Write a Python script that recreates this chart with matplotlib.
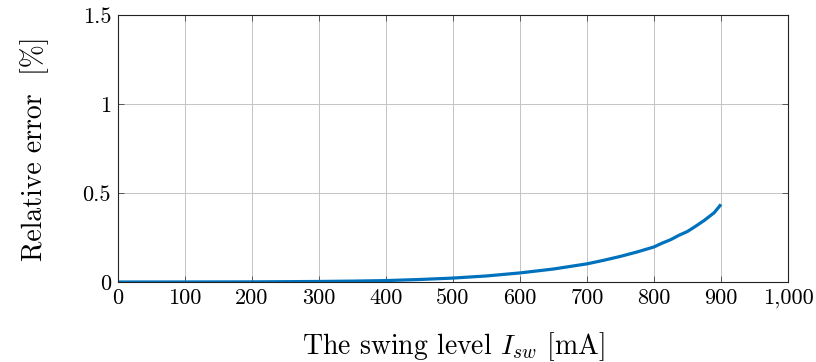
import matplotlib
matplotlib.use("Agg")
import matplotlib.pyplot as plt

# Data
swing = [0, 100, 200, 300, 350, 400, 450, 500, 550, 600, 650, 700, 725, 750,
         775, 800, 812, 825, 837, 850, 862, 875, 890, 900]
rel_err = [0.0, 0.0002, 0.0008, 0.003, 0.005, 0.008, 0.014, 0.022, 0.034, 0.051,
           0.073, 0.102, 0.122, 0.144, 0.169, 0.197, 0.218, 0.238, 0.262, 0.284,
           0.313, 0.346, 0.390, 0.436]
xticks = [0, 100, 200, 300, 400, 500, 600, 700, 800, 900, 1000]
xtick_labels = ['0', '100', '200', '300', '400', '500', '600', '700', '800', '900', '1,000']
yticks = [0, 0.5, 1, 1.5]
ytick_labels = ['0', '0.5', '1', '1.5']

plt.rcParams['font.family'] = 'serif'
plt.rcParams['font.serif'] = ['cmr10']
plt.rcParams['mathtext.fontset'] = 'cm'
plt.rcParams['axes.formatter.use_mathtext'] = True

fig = plt.figure(figsize=(8.16, 3.62), dpi=100)
ax = fig.add_axes([0.1446, 0.221, 0.8211, 0.7376])

ax.plot(swing, rel_err, color='#0072BD', linewidth=2.3, solid_capstyle='butt',
        solid_joinstyle='round')

ax.set_xlim(0, 1000)
ax.set_ylim(0, 1.5)
ax.set_xticks(xticks)
ax.set_xticklabels(xtick_labels)
ax.set_yticks(yticks)
ax.set_yticklabels(ytick_labels)
ax.tick_params(direction='in', length=4, width=0.6, labelsize=16, pad=5,
               top=True, right=True, colors='#444444', labelcolor='black')
ax.grid(True, color='#c4c4c4', linewidth=0.7)
ax.set_axisbelow(True)
for s in ax.spines.values():
    s.set_linewidth(0.8)
    s.set_color('#222222')

ax.set_xlabel(r'The swing level $I_{sw}$ [mA]', fontsize=20, labelpad=16)
ax.set_ylabel('Relative error  [%]', fontsize=20, labelpad=24)

fig.savefig('out.png', dpi=100)
